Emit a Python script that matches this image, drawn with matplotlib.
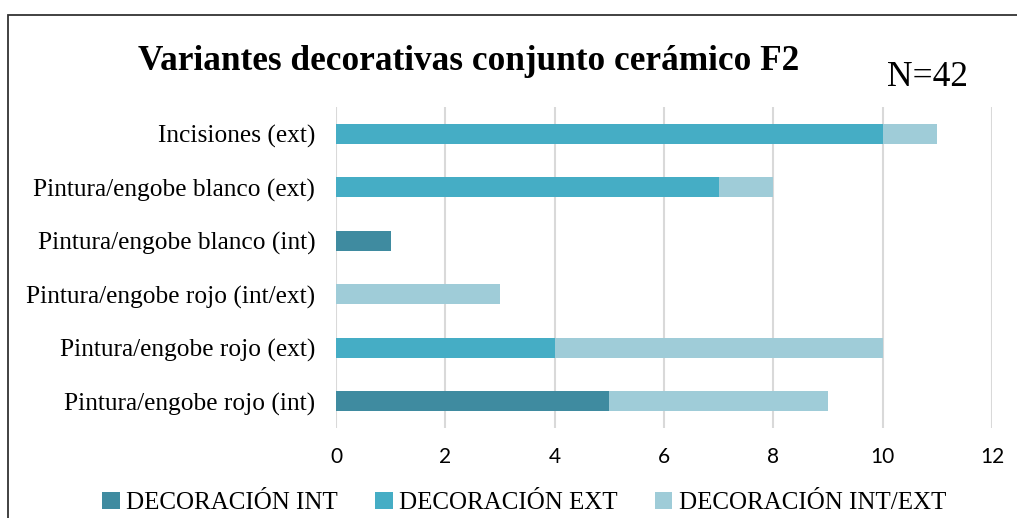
import matplotlib
matplotlib.use("Agg")
import matplotlib.pyplot as plt
import numpy as np
from matplotlib.patches import Rectangle

# datos
categorias = ["Pintura/engobe rojo (int)", "Pintura/engobe rojo (ext)",
              "Pintura/engobe rojo (int/ext)", "Pintura/engobe blanco (int)",
              "Pintura/engobe blanco (ext)", "Incisiones (ext)"]
dec_int = [5, 0, 0, 1, 0, 0]
dec_ext = [0, 4, 0, 0, 7, 10]
dec_int_ext = [4, 6, 3, 0, 1, 1]
series = ["DECORACIÓN INT", "DECORACIÓN EXT", "DECORACIÓN INT/EXT"]
colores = ["#3F8BA0", "#45ADC5", "#9FCCD8"]
ticks_x = [0, 2, 4, 6, 8, 10, 12]

serif = "Liberation Serif"

fig = plt.figure(figsize=(10.17, 5.18), dpi=100)
ax = fig.add_axes([336 / 1017, 1 - 428 / 518, (992 - 336) / 1017, (428 - 107) / 518])

y = np.arange(len(categorias))
izq = np.zeros(len(categorias))
for vals, nombre, c in zip([dec_int, dec_ext, dec_int_ext], series, colores):
    ax.barh(y, vals, left=izq, height=0.38, color=c, label=nombre, zorder=3)
    izq += np.array(vals)

ax.set_xlim(0, 12)
ax.set_ylim(-0.5, len(categorias) - 0.5)
ax.set_xticks(ticks_x)
ax.set_xticklabels([str(t) for t in ticks_x], family="Lato", fontsize=15)
ax.set_yticks(y)
ax.set_yticklabels(categorias, family=serif, fontsize=18.3)
ax.tick_params(axis="both", length=0)
ax.tick_params(axis="x", pad=14)
ax.tick_params(axis="y", pad=15)
ax.grid(axis="x", color="#D9D9D9", linewidth=1.5, zorder=0)
for s in ax.spines.values():
    s.set_visible(False)

fig.text(138 / 1017, 1 - 62 / 518, "Variantes decorativas conjunto cerámico F2",
         family=serif, fontsize=25.4, fontweight="bold", va="center", ha="left")
fig.text(928 / 1017, 1 - 78 / 518, "N=42", family=serif, fontsize=25.5,
         va="center", ha="center")

fig.legend(loc="center", bbox_to_anchor=(524 / 1017, 1 - 503 / 518), ncol=3,
           frameon=False, prop={"family": serif, "size": 18},
           handlelength=0.7, handleheight=0.7, handletextpad=0.25,
           columnspacing=1.5)

# marco
fig.patches.append(Rectangle((8 / 1017, -0.1), 1.2, 1 - 15 / 518 + 0.1,
                             transform=fig.transFigure, fill=False,
                             edgecolor="#333333", linewidth=1.3))

fig.savefig("out.png", dpi=100)
